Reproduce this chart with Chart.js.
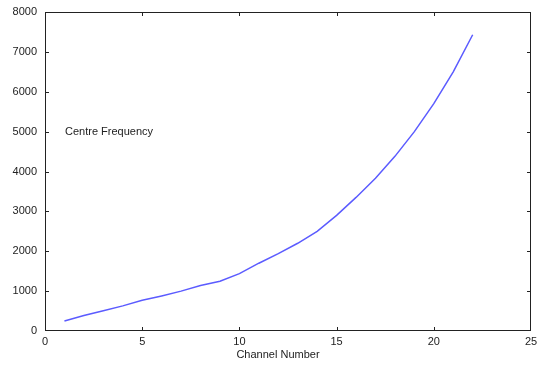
<!DOCTYPE html>
<html>
<head>
<meta charset="utf-8">
<script src="https://cdn.jsdelivr.net/npm/chart.js@4/dist/chart.umd.min.js"></script>
<style>
  html, body { margin: 0; padding: 0; background: #fff; }
  #wrap { width: 538px; height: 366px; }
</style>
</head>
<body>
<div id="wrap"><canvas id="freqChart" width="538" height="366"></canvas></div>
<script>
// channel numbers and their centre frequencies
const channels = [1, 2, 3, 4, 5, 6, 7, 8, 9, 10, 11, 12, 13, 14, 15, 16, 17, 18, 19, 20, 21, 22];
const centreFreq = [250, 390, 510, 630, 770, 880, 1000, 1140, 1250, 1440, 1700, 1940, 2200, 2500, 2900, 3350, 3830, 4380, 5000, 5700, 6500, 7430];
const xTicks = [0, 5, 10, 15, 20, 25];
const yTicks = [0, 1000, 2000, 3000, 4000, 5000, 6000, 7000, 8000];
const seriesLabel = "Centre Frequency";
const xTitle = "Channel Number";

const FONT = "Arial, 'Liberation Sans', sans-serif";

// box round the plot with inward ticks on all four sides, plus text labels
const frameTicks = {
  id: "frameTicks",
  afterDatasetsDraw(chart) {
    const { ctx, chartArea: a, scales } = chart;
    const len = 4;
    ctx.save();
    ctx.strokeStyle = "#222";
    ctx.lineWidth = 1;
    ctx.strokeRect(a.left + 0.5, a.top + 0.5, a.right - a.left - 1, a.bottom - a.top - 1);
    ctx.beginPath();
    xTicks.slice(1, -1).forEach(v => {
      const x = Math.round(scales.x.getPixelForValue(v)) + 0.5;
      ctx.moveTo(x, a.bottom); ctx.lineTo(x, a.bottom - len);
      ctx.moveTo(x, a.top); ctx.lineTo(x, a.top + len);
    });
    yTicks.slice(1, -1).forEach(v => {
      const y = Math.round(scales.y.getPixelForValue(v)) + 0.5;
      ctx.moveTo(a.left, y); ctx.lineTo(a.left + len, y);
      ctx.moveTo(a.right, y); ctx.lineTo(a.right - len, y);
    });
    ctx.stroke();

    ctx.fillStyle = "#222";
    ctx.font = "11px " + FONT;
    ctx.textBaseline = "middle";
    ctx.textAlign = "left";
    ctx.fillText(seriesLabel, a.left + 20, scales.y.getPixelForValue(5000));
    ctx.textAlign = "center";
    ctx.fillText(xTitle, (a.left + a.right) / 2 - 10, 355);
    ctx.restore();
  }
};

new Chart(document.getElementById("freqChart").getContext("2d"), {
  type: "line",
  data: {
    datasets: [
      {
        label: seriesLabel,
        data: channels.map((c, i) => ({ x: c, y: centreFreq[i] })),
        borderColor: "#5b5bff",
        borderWidth: 1.5,
        pointRadius: 0,
        tension: 0,
        fill: false,
      },
    ],
  },
  options: {
    responsive: false,
    animation: false,
    layout: { padding: { left: 0, right: 7, top: 12, bottom: 0 } },
    plugins: {
      legend: { display: false },
      tooltip: { enabled: false },
    },
    scales: {
      x: {
        type: "linear",
        min: 0,
        max: 25,
        afterBuildTicks: s => { s.ticks = xTicks.map(v => ({ value: v })); },
        afterFit: s => { s.height = 35; s.paddingLeft = 0; s.paddingRight = 0; },
        grid: { display: false, drawTicks: false },
        border: { display: false },
        ticks: { color: "#222", padding: 4, font: { family: FONT, size: 11 }, callback: v => String(v) },
      },
      y: {
        min: 0,
        max: 8000,
        afterBuildTicks: s => { s.ticks = yTicks.map(v => ({ value: v })); },
        afterFit: s => { s.width = 45; s.paddingTop = 0; s.paddingBottom = 0; },
        grid: { display: false, drawTicks: false },
        border: { display: false },
        ticks: { color: "#222", padding: 8, font: { family: FONT, size: 11 }, callback: v => String(v) },
      },
    },
  },
  plugins: [frameTicks],
});
</script>
</body>
</html>
